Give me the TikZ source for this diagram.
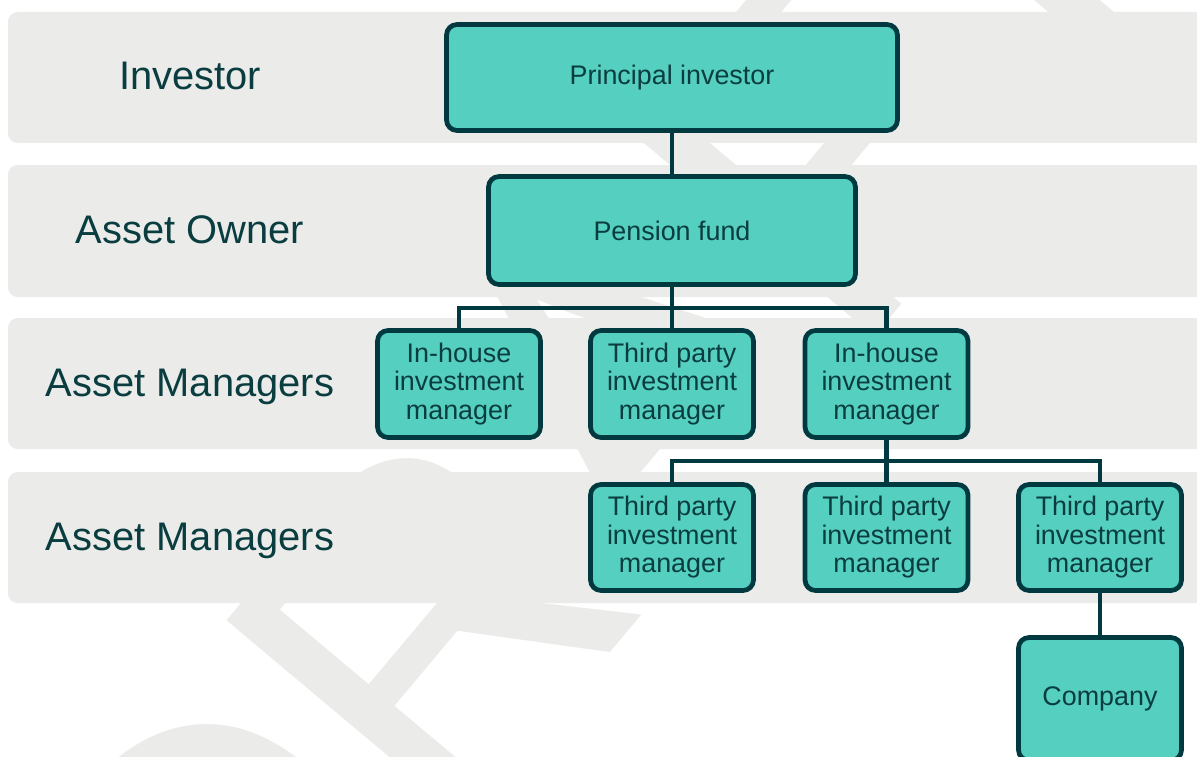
\documentclass[tikz,border=0pt]{standalone}
\usepackage{fontspec}
\setmainfont{Liberation Sans}
\usepackage{xcolor}
\usepackage{tikz}

\definecolor{bandgray}{RGB}{235,235,233}
\definecolor{boxfill}{RGB}{85,207,192}
\definecolor{boxline}{RGB}{0,58,64}
\definecolor{inktext}{RGB}{10,61,64}

\begin{document}
\begin{tikzpicture}[x=0.02cm,y=-0.02cm,
		box/.style={draw=boxline,fill=boxfill,line width=2.7pt,rounded corners=6pt,
			text=inktext,align=center,inner sep=0pt,font=\fontsize{15.3}{16.2}\selectfont},
		mgr/.style={box,minimum width=3.26cm,minimum height=2.14cm},
		tier/.style={text=inktext,anchor=base,font=\fontsize{22.7}{26}\selectfont},
		link/.style={draw=boxline,line width=2.6pt}]
		\def\bandr{5.5pt}
		\clip (0,0) rectangle (1197,757);
		% watermark behind the rows
		\node[bandgray,rotate=50,font=\fontsize{260}{260}\selectfont] (draft) at (600,420) {DRAFT};
		% the four rows
		\fill[bandgray,rounded corners=\bandr]
			  (8,12) rectangle (1240,143)
			  (8,165) rectangle (1240,297)
			  (8,318) rectangle (1240,449)
			  (8,472) rectangle (1240,603);
		\node[tier] (investor) at (190,90) {Investor};
		\node[tier] (owner) at (190,243) {Asset Owner};
		\node[tier] (mgrsA) at (190,396.5) {Asset Managers};
		\node[tier] (mgrsB) at (190,550) {Asset Managers};
		% boxes
		\node[box,minimum width=9.02cm,minimum height=2.12cm] (principal) at (672,77.5) {Principal investor};
		\node[box,minimum width=7.34cm,minimum height=2.16cm] (pension) at (672,230.5) {Pension fund};
		\node[mgr] (inhouseA) at (459,384) {In-house\\investment\\manager};
		\node[mgr] (thirdA) at (672,384) {Third party\\investment\\manager};
		\node[mgr] (inhouseB) at (886.5,384) {In-house\\investment\\manager};
		\node[mgr,minimum height=2.12cm] (thirdB) at (672,537.5) {Third party\\investment\\manager};
		\node[mgr,minimum height=2.12cm] (thirdC) at (886.5,537.5) {Third party\\investment\\manager};
		\node[mgr,minimum height=2.12cm] (thirdD) at (1100,537.5) {Third party\\investment\\manager};
		\node[mgr,minimum height=2.46cm] (company) at (1100,699) {Company};
		% links
		\coordinate (busA) at (672,308);
		\coordinate (busB) at (886.5,461);
		\draw[link] (principal) -- (pension);
		\draw[link] (pension) -- (busA);
		\draw[link] (inhouseA.north) |- (busA) -| (inhouseB.north);
		\draw[link] (busA) -- (thirdA.north);
		\draw[link] (inhouseB) -- (busB);
		\draw[link] (thirdB.north) |- (busB) -| (thirdD.north);
		\draw[link] (busB) -- (thirdC.north);
		\draw[link] (thirdD) -- (company);
	\end{tikzpicture}
\end{document}
